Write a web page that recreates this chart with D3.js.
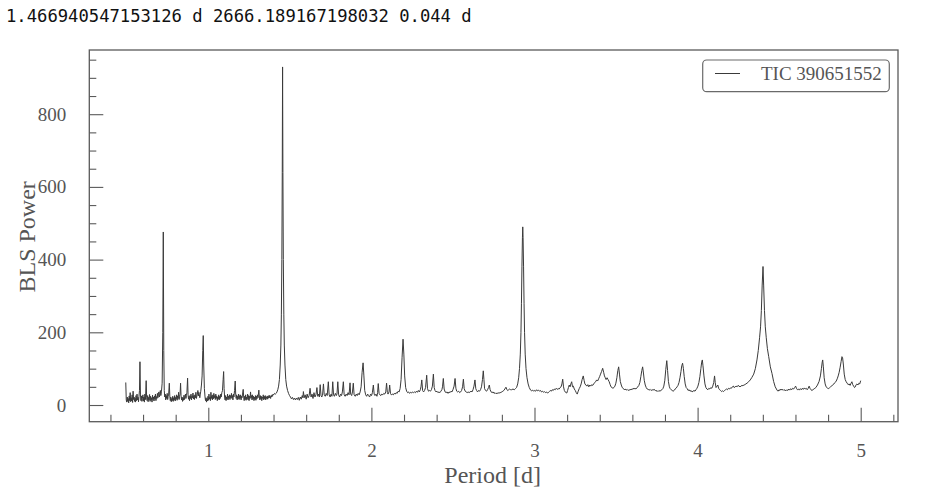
<!DOCTYPE html>
<html>
<head>
<meta charset="utf-8">
<script src="https://cdn.jsdelivr.net/npm/d3@7"></script>
<style>
html,body{margin:0;padding:0;background:#fff;}
svg{display:block;}
.serif{font-family:"Liberation Serif","Times New Roman",Times,serif;}
</style>
</head>
<body>
<svg id="chart" width="926" height="489"></svg>
<script>
// ---- data ----
const titleText = "1.466940547153126 d 2666.189167198032 0.044 d";
const seriesName = "TIC 390651552";
const xLabel = "Period [d]";
const yLabel = "BLS Power";
const xMajorTicks = [1, 2, 3, 4, 5];
const xMinorTicks = [0.4, 0.6, 0.8, 1.2, 1.4, 1.6, 1.8, 2.2, 2.4, 2.6, 2.8, 3.2, 3.4, 3.6, 3.8, 4.2, 4.4, 4.6, 4.8, 5.2];
const yMajorTicks = [0, 200, 400, 600, 800];
const yMinorTicks = [50, 100, 150, 250, 300, 350, 450, 500, 550, 650, 700, 750, 850, 900, 950];

// period [d], BLS power — short periods (dense noisy part)
const segShort = [
[0.494,62],[0.497,14],[0.500,8],[0.503,22],[0.506,10],[0.509,18],[0.512,6],[0.515,25],[0.518,12],[0.521,34],[0.524,9],[0.527,20],[0.530,11],[0.533,28],[0.536,7],[0.539,38],[0.542,15],[0.545,22],[0.548,10],[0.551,19],[0.554,8],[0.557,26],[0.560,12],[0.563,30],[0.566,14],[0.569,21],[0.572,9],[0.575,24],[0.578,40],[0.581,119],[0.584,30],[0.587,12],[0.590,25],[0.593,10],[0.596,18],[0.599,28],[0.602,11],[0.605,22],[0.608,8],[0.611,30],[0.615,15],[0.619,67],[0.622,20],[0.625,12],[0.628,26],[0.631,9],[0.634,21],[0.637,14],[0.640,29],[0.643,10],[0.646,24],[0.649,13],[0.652,20],[0.655,8],[0.658,27],[0.661,15],[0.664,22],[0.667,11],[0.670,25],[0.673,16],[0.676,30],[0.679,12],[0.682,23],[0.685,18],[0.688,32],[0.691,20],[0.694,28],[0.697,36],[0.700,22],[0.703,30],[0.706,40],[0.709,26],[0.713,38],[0.717,60],[0.721,200],[0.724,476],[0.727,150],[0.730,40],[0.733,22],[0.736,30],[0.739,14],[0.742,26],[0.745,18],[0.748,32],[0.751,15],[0.754,24],[0.757,30],[0.761,60],[0.764,25],[0.767,12],[0.770,22],[0.773,9],[0.776,18],[0.779,12],[0.782,24],[0.785,10],[0.788,20],[0.791,14],[0.794,26],[0.797,11],[0.800,21],[0.803,16],[0.806,28],[0.809,13],[0.812,25],[0.815,18],[0.818,35],[0.821,15],[0.824,24],[0.827,30],[0.830,60],[0.833,25],[0.836,14],[0.839,22],[0.842,10],[0.845,20],[0.848,13],[0.851,27],[0.854,15],[0.857,22],[0.860,30],[0.863,18],[0.866,26],[0.869,35],[0.873,74],[0.876,28],[0.879,16],[0.882,24],[0.885,12],[0.888,26],[0.891,18],[0.894,30],[0.897,14],[0.900,24],[0.903,20],[0.906,33],[0.909,17],[0.912,26],[0.915,15],[0.918,28],[0.921,20],[0.924,35],[0.927,18],[0.930,25],[0.933,30],[0.936,40],[0.939,25],[0.942,35],[0.945,28],[0.948,20],[0.951,30],[0.954,38],[0.958,55],[0.962,80],[0.966,150],[0.969,191],[0.972,110],[0.976,45],[0.980,22],[0.983,12],[0.986,20],[0.989,8],[0.992,18],[0.995,11],[0.998,24],[1.001,13],[1.004,30],[1.007,16],[1.010,22],[1.013,12],[1.016,35],[1.019,18],[1.022,26],[1.025,14],[1.028,28],[1.031,17],[1.034,32],[1.037,20],[1.040,26],[1.043,15],[1.046,30],[1.049,18],[1.052,25],[1.055,12],[1.058,22],[1.061,16],[1.064,28],[1.067,14],[1.070,24],[1.073,18],[1.076,30],[1.079,22],[1.083,34],[1.087,40],[1.091,70],[1.094,92],[1.097,45],[1.100,22],[1.103,14],[1.106,26],[1.109,12],[1.112,22],[1.115,16],[1.118,30],[1.121,14],[1.124,24],[1.127,18],[1.130,28],[1.133,15],[1.136,26],[1.139,20],[1.142,32],[1.145,18],[1.148,26],[1.151,14],[1.154,30],[1.157,22],[1.161,40],[1.165,66],[1.168,30],[1.171,18],[1.174,28],[1.177,14],[1.180,24],[1.183,17],[1.186,30],[1.189,15],[1.192,26],[1.195,18],[1.198,28],[1.201,14],[1.204,24],[1.207,20],[1.210,30],[1.214,43],[1.217,22],[1.220,12],[1.223,24],[1.226,15],[1.229,28],[1.232,13],[1.235,22],[1.238,17],[1.241,30],[1.244,14],[1.247,26],[1.250,12],[1.253,24],[1.256,18],[1.259,36],[1.262,20],[1.265,26],[1.268,14],[1.271,28],[1.274,16],[1.277,24],[1.280,12],[1.283,22],[1.286,15],[1.289,26],[1.292,13],[1.295,24],[1.298,17],[1.301,28],[1.305,20],[1.310,41],[1.313,22],[1.316,14],[1.319,26],[1.322,16],[1.325,24],[1.328,12],[1.331,22],[1.334,18],[1.337,28],[1.340,14],[1.343,24],[1.346,17],[1.349,26],[1.352,14],[1.355,22],[1.358,18],[1.361,25],[1.364,16],[1.367,24],[1.370,19],[1.373,27],[1.376,20],[1.379,24],[1.382,18],[1.385,26],[1.388,22],[1.391,28],[1.394,24],[1.397,30],[1.401,28],[1.406,32],[1.411,30],[1.416,32],[1.421,36],[1.426,42],[1.431,52],[1.436,70],[1.441,110],[1.445,165],[1.448,250],[1.451,400],[1.4535,640],[1.4555,930],[1.4575,640],[1.460,400],[1.463,250],[1.466,165],[1.470,110],[1.475,70],[1.480,52],[1.486,40],[1.492,32],[1.498,26]
];

// mid periods
const segMid = [
[1.504,22],[1.510,17],[1.516,21],[1.522,15],[1.528,19],[1.534,14],[1.540,19],[1.546,15],[1.552,21],[1.558,13],[1.564,22],[1.570,16],[1.576,26],[1.580,20],[1.583,37],[1.588,20],[1.594,28],[1.600,16],[1.606,30],[1.612,20],[1.618,26],[1.624,46],[1.630,22],[1.636,30],[1.642,18],[1.648,34],[1.654,22],[1.660,28],[1.666,48],[1.671,24],[1.677,30],[1.681,22],[1.686,56],[1.691,26],[1.696,22],[1.701,30],[1.706,58],[1.711,28],[1.717,24],[1.723,32],[1.729,26],[1.736,64],[1.741,28],[1.747,22],[1.753,30],[1.758,24],[1.763,64],[1.768,28],[1.773,24],[1.779,32],[1.785,26],[1.789,30],[1.794,64],[1.799,28],[1.805,22],[1.811,30],[1.817,26],[1.822,36],[1.828,64],[1.833,28],[1.839,24],[1.845,30],[1.851,26],[1.857,34],[1.863,28],[1.869,61],[1.873,30],[1.879,26],[1.884,36],[1.889,60],[1.894,28],[1.901,24],[1.907,30],[1.913,26],[1.919,32],[1.925,28],[1.931,36],[1.937,50],[1.943,90],[1.949,116],[1.954,80],[1.959,40],[1.965,28],[1.971,24],[1.977,30],[1.983,26],[1.989,22],[1.995,30],[2.001,26],[2.006,34],[2.012,55],[2.017,30],[2.022,26],[2.028,30],[2.034,24],[2.038,34],[2.042,59],[2.047,32],[2.052,28],[2.058,26],[2.064,30],[2.070,28],[2.076,32],[2.082,30],[2.088,36],[2.093,60],[2.098,34],[2.102,30],[2.108,36],[2.112,55],[2.117,32],[2.122,28],[2.128,30],[2.134,28],[2.140,32],[2.146,30],[2.152,34],[2.158,32],[2.164,38],[2.170,36],[2.176,45],[2.182,70],[2.188,130],[2.194,181],[2.199,140],[2.204,80],[2.210,48],[2.216,38],[2.222,34],[2.228,36],[2.234,32],[2.240,35],[2.246,33],[2.252,36],[2.258,34],[2.264,36],[2.270,34],[2.276,38],[2.282,35],[2.288,40],[2.294,36],[2.300,42],[2.304,50],[2.309,69],[2.314,40],[2.320,36],[2.326,40],[2.332,48],[2.339,82],[2.344,45],[2.350,38],[2.356,40],[2.362,38],[2.368,42],[2.374,52],[2.380,85],[2.385,48],[2.390,40],[2.396,36],[2.402,38],[2.408,34],[2.414,36],[2.420,34],[2.426,38],[2.432,42],[2.436,50],[2.441,73],[2.446,44],[2.452,36],[2.458,34],[2.464,36],[2.470,32],[2.476,36],[2.482,34],[2.488,38],[2.494,36],[2.500,42],[2.507,52],[2.513,73],[2.518,46],[2.523,38],[2.529,36],[2.535,38],[2.541,34],[2.547,36],[2.553,40],[2.559,50],[2.564,71],[2.569,45],[2.575,38],[2.581,36],[2.587,34],[2.593,36],[2.599,34],[2.605,36],[2.611,38],[2.617,36],[2.623,42],[2.629,52],[2.635,69],[2.640,45],[2.645,40],[2.651,36],[2.657,40],[2.663,38],[2.669,42],[2.675,50],[2.681,70],[2.686,94],[2.690,70],[2.694,45],[2.700,40],[2.706,38],[2.712,42],[2.718,48],[2.723,55],[2.728,42],[2.734,36],[2.740,34],[2.746,36],[2.752,32],[2.758,34],[2.764,31],[2.770,33],[2.776,32],[2.782,34],[2.788,33],[2.794,35],[2.800,36],[2.806,38],[2.812,40],[2.818,44],[2.825,49],[2.831,42],[2.836,40],[2.842,42],[2.848,44],[2.854,42],[2.860,42],[2.868,44],[2.876,42],[2.883,45],[2.890,48],[2.897,58],[2.903,75],[2.908,100],[2.913,140],[2.917,200],[2.920,280],[2.923,380],[2.926,460],[2.928,490],[2.930,460],[2.933,380],[2.936,280],[2.939,200],[2.943,140],[2.948,100],[2.954,75],[2.961,58],[2.968,48],[2.976,41]
];

// long periods
const segLong = [
[2.983,39],[2.989,41],[2.995,38],[3.001,40],[3.007,38],[3.013,42],[3.019,39],[3.025,41],[3.031,38],[3.037,40],[3.043,36],[3.049,38],[3.055,35],[3.061,37],[3.067,34],[3.073,36],[3.079,33],[3.085,34],[3.091,37],[3.097,40],[3.103,38],[3.109,42],[3.115,40],[3.121,44],[3.127,42],[3.133,46],[3.139,43],[3.145,45],[3.151,44],[3.157,48],[3.163,50],[3.168,58],[3.173,71],[3.178,50],[3.183,40],[3.188,36],[3.193,34],[3.198,33],[3.203,40],[3.208,48],[3.213,55],[3.218,50],[3.223,58],[3.228,64],[3.233,50],[3.238,52],[3.244,44],[3.250,40],[3.256,34],[3.262,30],[3.268,38],[3.274,45],[3.280,50],[3.286,58],[3.292,70],[3.299,80],[3.304,68],[3.309,58],[3.315,55],[3.321,52],[3.327,56],[3.333,50],[3.339,55],[3.345,52],[3.351,56],[3.357,54],[3.363,58],[3.369,62],[3.375,64],[3.381,69],[3.387,66],[3.393,72],[3.399,78],[3.405,85],[3.411,92],[3.418,101],[3.424,90],[3.429,80],[3.434,75],[3.439,70],[3.445,75],[3.451,70],[3.458,64],[3.464,56],[3.469,50],[3.475,48],[3.481,46],[3.487,48],[3.493,52],[3.499,60],[3.505,75],[3.511,95],[3.516,105],[3.521,85],[3.526,65],[3.532,55],[3.538,48],[3.544,46],[3.550,42],[3.556,44],[3.562,41],[3.568,43],[3.574,40],[3.580,42],[3.586,41],[3.592,44],[3.598,42],[3.604,46],[3.610,44],[3.616,46],[3.622,44],[3.628,48],[3.634,50],[3.640,54],[3.646,62],[3.652,78],[3.658,95],[3.663,105],[3.668,88],[3.673,68],[3.679,55],[3.685,48],[3.691,44],[3.697,43],[3.703,41],[3.709,43],[3.715,40],[3.721,42],[3.727,41],[3.733,43],[3.739,41],[3.745,38],[3.751,40],[3.757,37],[3.763,40],[3.769,38],[3.775,40],[3.781,42],[3.787,45],[3.793,52],[3.799,68],[3.805,98],[3.811,122],[3.816,95],[3.821,65],[3.827,50],[3.832,45],[3.838,42],[3.844,40],[3.850,38],[3.856,40],[3.862,44],[3.868,46],[3.874,50],[3.880,54],[3.886,62],[3.892,75],[3.898,92],[3.903,108],[3.908,115],[3.913,100],[3.918,78],[3.924,58],[3.930,48],[3.936,45],[3.942,40],[3.948,42],[3.954,38],[3.960,40],[3.966,36],[3.972,38],[3.978,40],[3.984,38],[3.990,42],[3.996,46],[4.002,52],[4.008,62],[4.014,78],[4.020,100],[4.025,118],[4.029,124],[4.033,108],[4.039,80],[4.045,58],[4.051,48],[4.057,44],[4.063,42],[4.069,46],[4.075,44],[4.081,48],[4.087,46],[4.093,52],[4.099,62],[4.104,80],[4.108,62],[4.113,48],[4.119,52],[4.124,55],[4.129,46],[4.135,42],[4.141,40],[4.147,37],[4.153,39],[4.159,37],[4.165,40],[4.171,42],[4.177,44],[4.183,42],[4.189,46],[4.195,44],[4.201,47],[4.207,46],[4.213,50],[4.219,52],[4.224,48],[4.230,50],[4.236,52],[4.242,50],[4.248,54],[4.254,52],[4.260,50],[4.266,52],[4.272,54],[4.278,53],[4.284,55],[4.290,56],[4.296,58],[4.303,60],[4.313,64],[4.323,69],[4.333,76],[4.344,85],[4.354,100],[4.364,124],[4.372,150],[4.380,185],[4.386,215],[4.391,260],[4.396,330],[4.401,381],[4.405,330],[4.410,260],[4.415,215],[4.421,185],[4.428,155],[4.436,133],[4.446,105],[4.456,87],[4.466,65],[4.476,50],[4.487,41],[4.493,38],[4.499,42],[4.505,40],[4.511,44],[4.517,41],[4.523,43],[4.529,40],[4.535,42],[4.541,39],[4.547,42],[4.553,40],[4.559,44],[4.565,41],[4.571,45],[4.577,42],[4.583,46],[4.589,44],[4.595,48],[4.601,52],[4.606,46],[4.612,42],[4.618,44],[4.624,41],[4.630,45],[4.636,42],[4.642,46],[4.648,43],[4.654,47],[4.660,44],[4.666,46],[4.672,42],[4.678,46],[4.684,52],[4.689,46],[4.695,42],[4.701,40],[4.707,42],[4.713,44],[4.719,46],[4.725,48],[4.735,55],[4.745,65],[4.753,80],[4.759,100],[4.764,118],[4.767,124],[4.771,105],[4.776,75],[4.782,58],[4.788,50],[4.795,47],[4.801,45],[4.808,47],[4.815,50],[4.822,52],[4.829,56],[4.836,58],[4.843,62],[4.850,66],[4.856,72],[4.862,80],[4.868,90],[4.874,104],[4.880,120],[4.885,133],[4.889,130],[4.894,110],[4.899,85],[4.905,70],[4.911,64],[4.917,60],[4.923,56],[4.929,58],[4.935,54],[4.941,60],[4.946,64],[4.951,56],[4.957,52],[4.962,48],[4.967,50],[4.972,56],[4.977,58],[4.983,55],[4.989,60],[4.994,58],[5.000,67]
];

const blsPoints = segShort.concat(segMid, segLong);

// ---- drawing ----
const svg = d3.select("#chart");
const W = 926, H = 489;
const plot = {left: 89.3, right: 898, top: 50, bottom: 421.7};
const frameColor = "#5a5a5a";
const textColor = "#555";

svg.append("rect").attr("width", W).attr("height", H).attr("fill", "#fff");

const x = d3.scaleLinear().domain([0.2704, 5.2287]).range([plot.left, plot.right]);
const y = d3.scaleLinear().domain([-45.9, 976.6]).range([plot.bottom, plot.top]);

// title
svg.append("text")
  .attr("x", 6).attr("y", 21.5)
  .style("font-family", "'DejaVu Sans Mono', monospace")
  .style("font-size", "17.2px")
  .attr("fill", "#111")
  .text(titleText);

// data line
const line = d3.line().x(d => x(d[0])).y(d => y(d[1]));
svg.append("path")
  .datum(blsPoints)
  .attr("d", line)
  .attr("fill", "none")
  .attr("stroke", "#3a3a3a")
  .attr("stroke-width", 1)
  .attr("stroke-linejoin", "round");

// axes (ticks pointing inward)
const xAxis = d3.axisBottom(x).tickValues(xMajorTicks).tickSize(-14).tickPadding(22).tickFormat(d3.format("d"));
const xAxisMinor = d3.axisBottom(x).tickValues(xMinorTicks).tickSize(-7).tickFormat("");
const yAxis = d3.axisLeft(y).tickValues(yMajorTicks).tickSize(-14).tickPadding(23).tickFormat(d3.format("d"));
const yAxisMinor = d3.axisLeft(y).tickValues(yMinorTicks).tickSize(-7).tickFormat("");

function styleAxis(g) {
  g.attr("font-family", null).attr("font-size", null).attr("class", "serif");
  g.select(".domain").remove();
  g.selectAll(".tick line").attr("stroke", frameColor).attr("stroke-width", 1.1);
  g.selectAll(".tick text").attr("fill", textColor).attr("class", "serif").style("font-size", "19px");
}

svg.append("g").attr("transform", `translate(0,${plot.bottom})`).call(xAxis).call(styleAxis);
svg.append("g").attr("transform", `translate(0,${plot.bottom})`).call(xAxisMinor).call(styleAxis);
svg.append("g").attr("transform", `translate(${plot.left},0)`).call(yAxis).call(styleAxis);
svg.append("g").attr("transform", `translate(${plot.left},0)`).call(yAxisMinor).call(styleAxis);

// frame
svg.append("rect")
  .attr("x", plot.left).attr("y", plot.top)
  .attr("width", plot.right - plot.left).attr("height", plot.bottom - plot.top)
  .attr("fill", "none").attr("stroke", frameColor).attr("stroke-width", 1.3);

// axis labels
svg.append("text")
  .attr("class", "serif")
  .attr("x", (plot.left + plot.right) / 2 - 1).attr("y", 483)
  .attr("text-anchor", "middle")
  .style("font-size", "24px").attr("fill", textColor)
  .text(xLabel);

svg.append("text")
  .attr("class", "serif")
  .attr("transform", `translate(35,${(plot.top + plot.bottom) / 2 + 1}) rotate(-90)`)
  .attr("text-anchor", "middle")
  .style("font-size", "24px").attr("fill", textColor)
  .text(yLabel);

// legend
const leg = svg.append("g");
leg.append("rect")
  .attr("x", 702.7).attr("y", 60).attr("width", 186.6).attr("height", 31.7).attr("rx", 4)
  .attr("fill", "#fff").attr("stroke", "#6a6a6a").attr("stroke-width", 1.2);
leg.append("line")
  .attr("x1", 715).attr("x2", 740).attr("y1", 73.5).attr("y2", 73.5)
  .attr("stroke", "#3a3a3a").attr("stroke-width", 1);
leg.append("text")
  .attr("class", "serif")
  .attr("x", 761).attr("y", 80.2)
  .style("font-size", "19px").attr("fill", textColor)
  .text(seriesName);
</script>
</body>
</html>
